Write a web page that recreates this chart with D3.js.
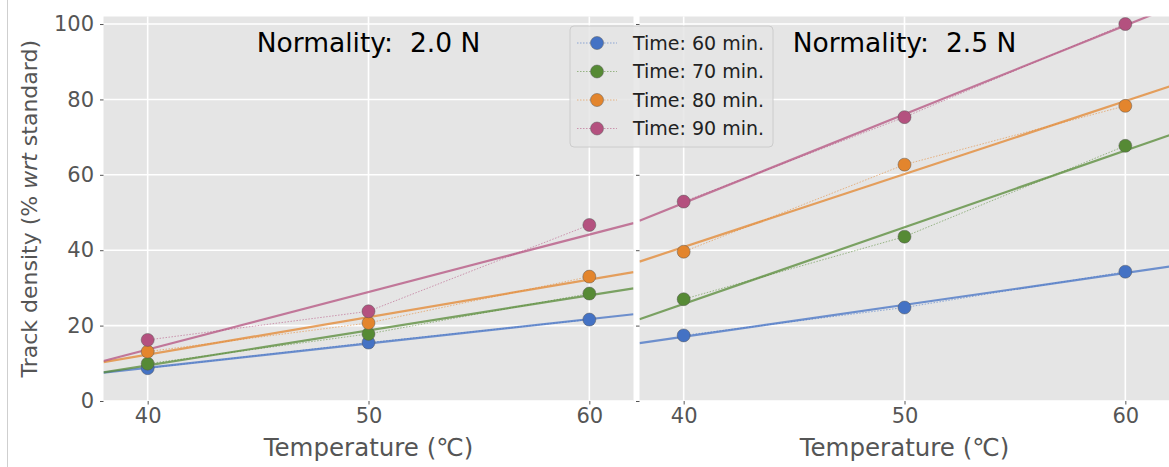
<!DOCTYPE html>
<html>
<head>
<meta charset="utf-8">
<script src="https://cdn.jsdelivr.net/npm/d3@7"></script>
<style>
  body { margin: 0; background: #fff; }
  text { font-family: "DejaVu Sans", sans-serif; }
</style>
</head>
<body>
<svg id="chart"></svg>
<script>
// Data
const temps = [40, 50, 60];
const timeLabels = ['Time: 60 min.', 'Time: 70 min.', 'Time: 80 min.', 'Time: 90 min.'];
const panelTitles = ['Normality:  2.0 N', 'Normality:  2.5 N'];
const density20 = [
  [8.7, 15.5, 21.6],
  [9.9, 17.8, 28.5],
  [13.1, 20.7, 33.0],
  [16.2, 23.8, 46.7]
];
const density25 = [
  [17.4, 24.8, 34.3],
  [27.0, 43.6, 67.7],
  [39.6, 62.7, 78.3],
  [52.9, 75.3, 100.0]
];
const yTicks = [0, 20, 40, 60, 80, 100];
const xTicks = [40, 50, 60];

const COLORS = ['#4472c4', '#568a35', '#e3852d', '#b4517f'];

const width = 1169, height = 467;
const svg = d3.select('#chart').attr('width', width).attr('height', height);

// light frame line at the left of the figure
svg.append('line')
    .attr('x1', 7.5).attr('x2', 7.5).attr('y1', 0).attr('y2', height)
    .attr('stroke', '#cfcfcf').attr('stroke-width', 1);

const panels = [
  {left: 103.5, right: 633.5, data: density20, title: panelTitles[0], showY: true},
  {left: 639.5, right: 1169.5, data: density25, title: panelTitles[1], showY: false}
];
const plotTop = 16.5, plotBottom = 401;

const yScale = d3.scaleLinear().domain([0, 102]).range([plotBottom, plotTop]);

// least squares fit of y on x
function fit(xs, ys) {
  const mx = d3.mean(xs), my = d3.mean(ys);
  const b = d3.sum(xs, (x, i) => (x - mx) * (ys[i] - my)) / d3.sum(xs, x => (x - mx) * (x - mx));
  return x => my + b * (x - mx);
}

panels.forEach((p, pi) => {
  const xScale = d3.scaleLinear().domain([38, 62]).range([p.left, p.right]);
  const w = p.right - p.left, h = plotBottom - plotTop;

  const g = svg.append('g');

  // background
  g.append('rect')
      .attr('x', p.left).attr('y', plotTop).attr('width', w).attr('height', h)
      .attr('fill', '#e5e5e5');

  // grid lines
  g.selectAll('.hgrid').data(yTicks).join('line')
      .attr('x1', p.left).attr('x2', p.right)
      .attr('y1', d => yScale(d)).attr('y2', d => yScale(d))
      .attr('stroke', '#fff').attr('stroke-width', 1.6);
  g.selectAll('.vgrid').data(xTicks).join('line')
      .attr('y1', plotTop).attr('y2', plotBottom)
      .attr('x1', d => xScale(d)).attr('x2', d => xScale(d))
      .attr('stroke', '#fff').attr('stroke-width', 1.6);

  // axes
  const xAxis = d3.axisBottom(xScale).tickValues(xTicks).tickSize(3.5).tickPadding(4);
  const xAxisG = g.append('g').attr('transform', `translate(0,${plotBottom})`).call(xAxis);
  xAxisG.select('.domain').remove();
  xAxisG.selectAll('line').attr('stroke', '#555');
  xAxisG.selectAll('text').attr('fill', '#555').style('font-size', '21px')
      .style('font-family', '"DejaVu Sans", sans-serif');

  const yAxis = d3.axisLeft(yScale).tickValues(yTicks).tickSize(3.5).tickPadding(6)
      .tickFormat(p.showY ? d3.format('d') : '');
  const yAxisG = g.append('g').attr('transform', `translate(${p.left},0)`).call(yAxis);
  yAxisG.select('.domain').remove();
  yAxisG.selectAll('line').attr('stroke', '#555');
  yAxisG.selectAll('text').attr('fill', '#555').style('font-size', '21px')
      .style('font-family', '"DejaVu Sans", sans-serif');

  // x axis title
  g.append('text')
      .attr('x', (p.left + p.right) / 2).attr('y', 456)
      .attr('text-anchor', 'middle').attr('fill', '#555')
      .style('font-size', '24.5px')
      .text('Temperature (\u2103)');

  // clip for the series
  const clipId = 'clip' + pi;
  svg.append('clipPath').attr('id', clipId)
    .append('rect').attr('x', p.left).attr('y', plotTop).attr('width', w).attr('height', h);
  const plot = g.append('g').attr('clip-path', `url(#${clipId})`);

  // fitted lines
  p.data.forEach((ys, si) => {
    const f = fit(temps, ys);
    plot.append('line')
        .attr('x1', xScale(38)).attr('y1', yScale(f(38)))
        .attr('x2', xScale(62)).attr('y2', yScale(f(62)))
        .attr('stroke', COLORS[si]).attr('stroke-opacity', 0.75)
        .attr('stroke-width', 2.2);
  });

  const line = d3.line().x((d, i) => xScale(temps[i])).y(d => yScale(d));

  // dotted lines connecting measurements, then markers
  p.data.forEach((ys, si) => {
    plot.append('path')
        .attr('d', line(ys))
        .attr('fill', 'none')
        .attr('stroke', COLORS[si]).attr('stroke-opacity', 0.55)
        .attr('stroke-width', 1)
        .attr('stroke-dasharray', '1.5,1.5');
  });
  p.data.forEach((ys, si) => {
    plot.selectAll('.pt' + si).data(ys).join('circle')
        .attr('cx', (d, i) => xScale(temps[i]))
        .attr('cy', d => yScale(d))
        .attr('r', 6.5)
        .attr('fill', COLORS[si])
        .attr('stroke', '#555').attr('stroke-opacity', 0.6).attr('stroke-width', 0.8);
  });

  // panel title
  g.append('text')
      .attr('x', (p.left + p.right) / 2).attr('y', 52)
      .attr('text-anchor', 'middle').attr('fill', '#000')
      .style('font-size', '26.5px')
      .style('white-space', 'pre')
      .text(p.title);
});

// y axis title
const yTitle = svg.append('text')
    .attr('transform', `translate(37,${(plotTop + plotBottom) / 2}) rotate(-90)`)
    .attr('text-anchor', 'middle').attr('fill', '#555')
    .style('font-size', '22px');
yTitle.append('tspan').text('Track density (% ');
yTitle.append('tspan').style('font-style', 'italic').text('wrt');
yTitle.append('tspan').text(' standard)');

// legend
const legend = svg.append('g').attr('transform', 'translate(570,26)');
legend.append('rect')
    .attr('width', 203).attr('height', 121).attr('rx', 4)
    .attr('fill', '#e5e5e5').attr('fill-opacity', 0.85)
    .attr('stroke', '#cccccc').attr('stroke-width', 1);
timeLabels.forEach((lab, i) => {
  const row = legend.append('g').attr('transform', `translate(0,${17 + i * 28.5})`);
  row.append('line')
      .attr('x1', 7).attr('x2', 47)
      .attr('stroke', COLORS[i]).attr('stroke-opacity', 0.55)
      .attr('stroke-width', 1).attr('stroke-dasharray', '1.5,1.5');
  row.append('circle')
      .attr('cx', 27).attr('r', 6.5)
      .attr('fill', COLORS[i])
      .attr('stroke', '#555').attr('stroke-opacity', 0.6).attr('stroke-width', 0.8);
  row.append('text')
      .attr('x', 63).attr('dy', '0.35em')
      .attr('fill', '#222')
      .style('font-size', '19px')
      .text(lab);
});
</script>
</body>
</html>
